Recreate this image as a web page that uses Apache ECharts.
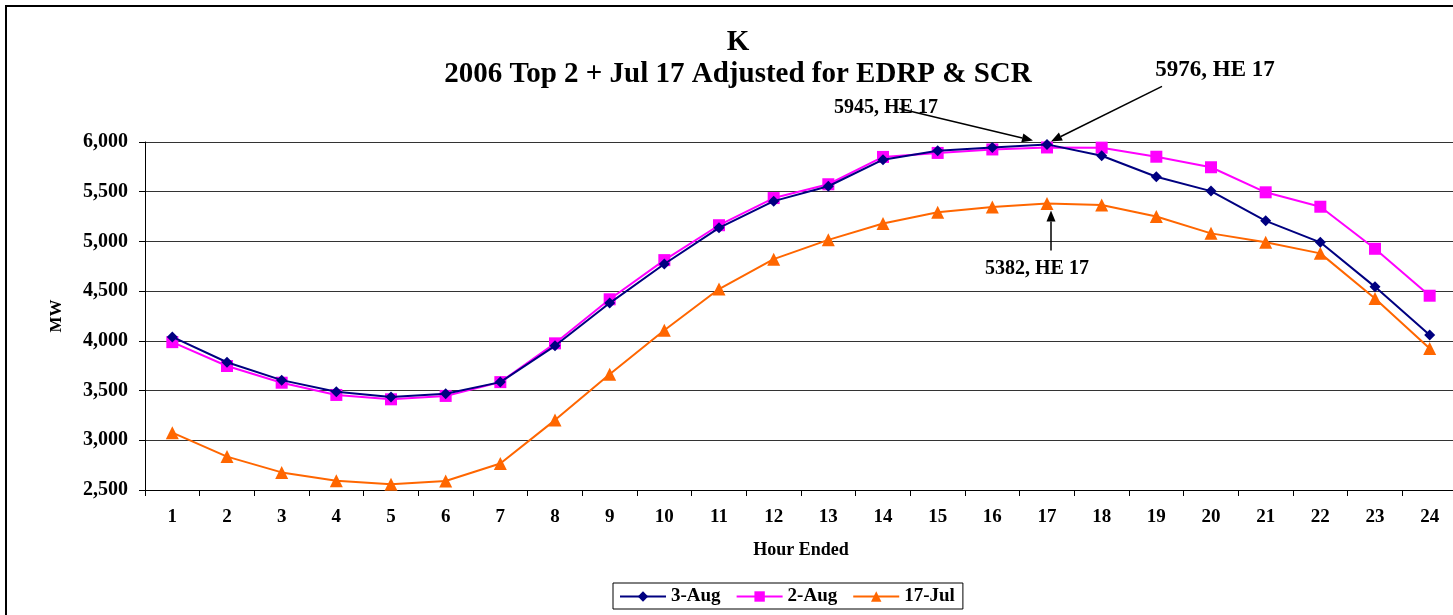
<!DOCTYPE html>
<html><head><meta charset="utf-8">
<script src="https://cdn.jsdelivr.net/npm/echarts@6/dist/echarts.min.js"></script>
<style>html,body{margin:0;padding:0;background:#fff;overflow:hidden;}#c{width:1470px;height:615px;}</style>
</head><body><div id="c"></div>
<script>
const hours = ['1','2','3','4','5','6','7','8','9','10','11','12','13','14','15','16','17','18','19','20','21','22','23','24'];
const aug3 = [4040,3785,3605,3488,3436,3468,3585,3950,4380,4773,5137,5405,5555,5822,5912,5945,5976,5862,5651,5506,5207,4991,4543,4058];
const aug2 = [3987,3747,3579,3456,3412,3446,3585,3975,4418,4812,5163,5436,5575,5850,5890,5925,5945,5943,5852,5746,5494,5349,4926,4454];
const jul17 = [3077,2836,2677,2594,2559,2590,2767,3203,3665,4107,4521,4822,5016,5180,5293,5346,5382,5366,5250,5081,4991,4880,4427,3924];
const yTicks = {min:2500, max:6000, interval:500};
const notes = [
  {series:0, idx:16, text:'5976, HE 17'},
  {series:1, idx:16, text:'5945, HE 17'},
  {series:2, idx:16, text:'5382, HE 17'}
];
const FONT = '"Liberation Serif","Times New Roman",serif';
const chart = echarts.init(document.getElementById('c'));
const fmt = v => v.toLocaleString('en-US');
chart.setOption({
  animation:false,
  backgroundColor:'#fff',
  title:{
    text:'K\n2006 Top 2 + Jul 17 Adjusted for EDRP & SCR',
    left:733, top:22, textAlign:'center',
    textStyle:{fontFamily:FONT, fontWeight:'bold', fontSize:29, lineHeight:32, color:'#000'}
  },
  grid:{left:145, top:142, width:1312, height:348, containLabel:false},
  legend:{
    left:613, top:583,
    padding:[4,8,3,6], itemGap:15, itemWidth:46, itemHeight:13,
    borderColor:'#000', borderWidth:1, borderRadius:0,
    textStyle:{fontFamily:FONT, fontWeight:'bold', fontSize:19, color:'#000'},
    data:['3-Aug','2-Aug','17-Jul']
  },
  xAxis:{
    type:'category', data:hours, boundaryGap:true,
    name:'Hour Ended', nameLocation:'middle', nameGap:51,
    nameTextStyle:{fontFamily:FONT, fontWeight:'bold', fontSize:18, color:'#000'},
    axisLine:{lineStyle:{color:'#000', width:1}},
    axisTick:{show:true, length:6, interval:0, lineStyle:{color:'#000'}},
    axisLabel:{interval:0, margin:18, fontFamily:FONT, fontWeight:'bold', fontSize:19, color:'#000'},
    splitLine:{show:false}
  },
  yAxis:{
    type:'value', min:yTicks.min, max:yTicks.max, interval:yTicks.interval,
    name:'MW', nameLocation:'middle', nameGap:80, nameRotate:90,
    nameTextStyle:{fontFamily:FONT, fontWeight:'bold', fontSize:17, color:'#000'},
    axisLine:{show:true, lineStyle:{color:'#000', width:1}},
    axisTick:{show:true, length:6, lineStyle:{color:'#000'}},
    axisLabel:{margin:17, fontFamily:FONT, fontWeight:'bold', fontSize:20, color:'#000', formatter:fmt},
    splitLine:{show:true, lineStyle:{color:'#333', width:1}}
  },
  series:[
    {name:'3-Aug', type:'line', data:aug3, color:'#000080', symbol:'diamond', symbolSize:11,
     lineStyle:{width:2, color:'#000080'}, itemStyle:{color:'#000080'}, z:4},
    {name:'2-Aug', type:'line', data:aug2, color:'#FF00FF', symbol:'rect', symbolSize:12,
     lineStyle:{width:2, color:'#FF00FF'}, itemStyle:{color:'#FF00FF'}, z:3},
    {name:'17-Jul', type:'line', data:jul17, color:'#FF6600', symbol:'triangle', symbolSize:13,
     lineStyle:{width:2, color:'#FF6600'}, itemStyle:{color:'#FF6600'}, z:2}
  ]
});

function arrow(x1,y1,x2,y2){
  const a = Math.atan2(y2-y1, x2-x1), L=11, W=4.5;
  const bx = x2 - L*Math.cos(a), by = y2 - L*Math.sin(a);
  const nx = -Math.sin(a)*W, ny = Math.cos(a)*W;
  return [
    {type:'line', shape:{x1:x1,y1:y1,x2:bx,y2:by}, style:{stroke:'#000', lineWidth:1.5}, z:20},
    {type:'polygon', shape:{points:[[x2,y2],[bx+nx,by+ny],[bx-nx,by-ny]]}, style:{fill:'#000'}, z:20}
  ];
}
const seriesData = [aug3, aug2, jul17];
const pts = notes.map(n => chart.convertToPixel({seriesIndex:n.series}, [n.idx, seriesData[n.series][n.idx]]));
const g = [
  {type:'rect', shape:{x:6, y:6, width:1480, height:640}, style:{fill:'none', stroke:'#000', lineWidth:2}, z:0, silent:true}
];
// 5976 note: up-right
const p0 = pts[0];
g.push({type:'text', x:p0[0]+168, y:p0[1]-74, style:{text:notes[0].text, font:'bold 23px '+FONT, fill:'#000', textAlign:'center', textVerticalAlign:'middle'}, z:20});
g.push(...arrow(p0[0]+115, p0[1]-58, p0[0]+4, p0[1]-3));
// 5945 note: up-left
const p1 = pts[1];
g.push({type:'text', x:p1[0]-161, y:p1[1]-40, style:{text:notes[1].text, font:'bold 20px '+FONT, fill:'#000', textAlign:'center', textVerticalAlign:'middle'}, z:19});
g.push(...arrow(p1[0]-148, p1[1]-39, p1[0]-14, p1[1]-7));
// 5382 note: below
const p2 = pts[2];
g.push({type:'text', x:p2[0]-10, y:p2[1]+65, style:{text:notes[2].text, font:'bold 20px '+FONT, fill:'#000', textAlign:'center', textVerticalAlign:'middle'}, z:20});
g.push(...arrow(p2[0]+4, p2[1]+47, p2[0]+4, p2[1]+7));
chart.setOption({graphic:g});
</script></body></html>
